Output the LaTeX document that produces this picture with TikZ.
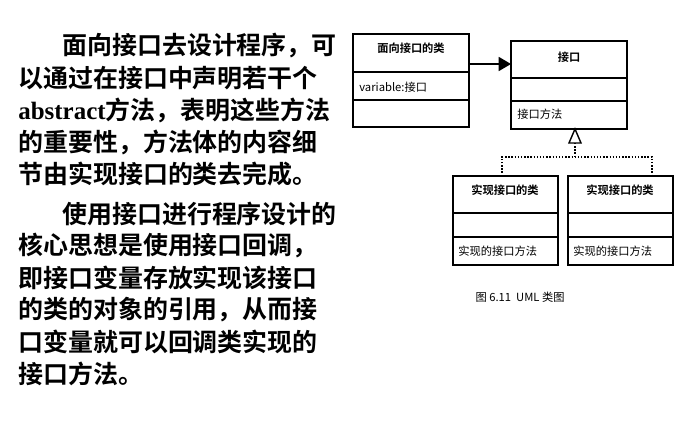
\documentclass[tikz,border=0pt]{standalone}
\usepackage{fontspec}
\setmainfont{Liberation Serif}
\newfontfamily\cjk{Noto Sans CJK SC}
\newfontfamily\cjkb{Noto Sans CJK SC Bold}
\usetikzlibrary{arrows.meta}

\tikzset{
  body/.style={anchor=west,inner sep=0pt,font=\cjkb\fontsize{14.2}{16}\selectfont},
  cell/.style={anchor=west,inner sep=0pt,font=\cjk\fontsize{6.4}{7}\selectfont},
  head/.style={inner sep=0pt,font=\cjkb\fontsize{6.4}{7}\selectfont},
  box/.style={draw,thick},
}

\begin{document}
\begin{tikzpicture}[x=0.02cm,y=-0.02cm]
  \useasboundingbox (0,0) rectangle (690,423);

  % text on the left
  \node[body] (t1) at (62,46) {面向接口去设计程序，可};
  \node[body] (t2) at (18,78) {以通过在接口中声明若干个};
  \node[body] (t3) at (18,110) {{\bfseries\fontspec{Liberation Serif}abstract}方法，表明这些方法};
  \node[body] (t4) at (18,142) {的重要性，方法体的内容细};
  \node[body] (t5) at (18,174) {节由实现接口的类去完成。};
  \node[body] (t6) at (62,214) {使用接口进行程序设计的};
  \node[body] (t7) at (18,246) {核心思想是使用接口回调，};
  \node[body] (t8) at (18,278) {即接口变量存放实现该接口};
  \node[body] (t9) at (18,310) {的类的对象的引用，从而接};
  \node[body] (t10) at (18,342) {口变量就可以回调类实现的};
  \node[body] (t11) at (18,374) {接口方法。};

  % class using the interface
  \draw[box] (353,34) rectangle (469,127);
  \draw[thick] (353,72) -- (469,72) (353,100) -- (469,100);
  \node[head] (user) at (411,48) {面向接口的类};
  \node[cell] (uvar) at (359,87) {variable:接口};
  \coordinate (ua) at (469,64);

  % interface
  \draw[box] (511,41) rectangle (627,129);
  \draw[thick] (511,78) -- (627,78) (511,101) -- (627,101);
  \node[head] (intf) at (569,57) {\itshape 接口};
  \node[cell] (imeth) at (517,114) {接口方法};
  \coordinate (ia) at (511,64);
  \coordinate (itip) at (575,129);

  \draw[thick,-{Triangle[length=7pt,width=8pt]}] (ua) -- (ia);

  % implementing classes
  \foreach \x/\n in {453/implA,568/implB}{
    \draw[box] (\x,176) rectangle ++(105,89);
    \draw[thick] (\x,213) -- ++(105,0) (\x,237) -- ++(105,0);
    \node[head] (\n) at (\x+52,190) {实现接口的类};
    \node[cell] (\n m) at (\x+5,251) {实现的接口方法};
  }

  % realization
  \coordinate (base) at (575,143);
  \draw[densely dotted,thick] (base) -- (575,157) (502,176) -- (502,157) -- (652,157) -- (652,176);
  \draw[thick,fill=white] (itip) -- (569,143) -- (581,143) -- cycle;

  \node[cell,anchor=center] (cap) at (520,297) {图 6.11\ \ UML 类图};
\end{tikzpicture}
\end{document}
